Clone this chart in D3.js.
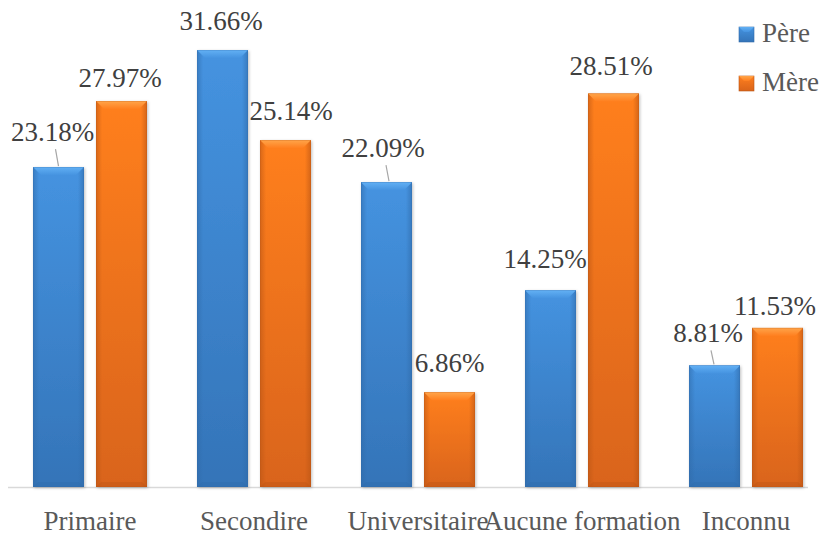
<!DOCTYPE html>
<html>
<head>
<meta charset="utf-8">
<script src="https://cdn.jsdelivr.net/npm/d3@7"></script>
<style>
html,body{margin:0;padding:0;background:#fff;}
svg{display:block;}
svg text{font-family:"Liberation Serif","Times New Roman","DejaVu Serif",serif;}
</style>
</head>
<body>
<svg id="chart" width="824" height="535"></svg>
<script>
const categories = ["Primaire", "Secondire", "Universitaire", "Aucune formation", "Inconnu"];
const seriesNames = ["Père", "Mère"];
const pereValues = [23.18, 31.66, 22.09, 14.25, 8.81];
const mereValues = [27.97, 25.14, 6.86, 28.51, 11.53];

// label placement offsets (layout only): [dx, dy from bar top to baseline, leader line?]
const pereLabelOffsets = [[-6, -26, true], [-1.5, -20, false], [-3.5, -25, true], [-5.5, -22, false], [-6.5, -23, true]];
const mereLabelOffsets = [[-1.5, -14, false], [5.5, -20, false], [0, -20, false], [-2.5, -18.5, false], [-2.5, -13, false]];

const svg = d3.select("#chart");
const baseY = 487;

const x = d3.scaleBand().domain(categories).range([8, 828]).padding(0);
const xs = d3.scaleBand().domain(seriesNames).range([-57, 57]).paddingInner(12/63).paddingOuter(0);
const y = d3.scaleLinear().domain([0, 35]).range([baseY, baseY - 35 * 13.8]);

const colors = {
  "Père": {light: "#62b0f4", main: "#4593e0", dark: "#3474b8", side: "#2f6aa8"},
  "Mère": {light: "#ffa54a", main: "#ff7f1f", dark: "#d9641a", side: "#b85414"}
};

const defs = svg.append("defs");
seriesNames.forEach((s, i) => {
  const c = colors[s];
  const g = defs.append("linearGradient").attr("id", "body" + i).attr("x1", 0).attr("y1", 0).attr("x2", 0).attr("y2", 1);
  g.append("stop").attr("offset", "0%").attr("stop-color", c.main);
  g.append("stop").attr("offset", "100%").attr("stop-color", c.dark);
  const gs = defs.append("linearGradient").attr("id", "side" + i).attr("x1", 0).attr("y1", 0).attr("x2", 1).attr("y2", 0);
  gs.append("stop").attr("offset", "0%").attr("stop-color", c.side).attr("stop-opacity", 0.55);
  gs.append("stop").attr("offset", "12%").attr("stop-color", c.side).attr("stop-opacity", 0);
  gs.append("stop").attr("offset", "88%").attr("stop-color", c.side).attr("stop-opacity", 0);
  gs.append("stop").attr("offset", "100%").attr("stop-color", c.side).attr("stop-opacity", 0.6);
  const gt = defs.append("linearGradient").attr("id", "top" + i).attr("x1", 0).attr("y1", 0).attr("x2", 0).attr("y2", 1);
  gt.append("stop").attr("offset", "0%").attr("stop-color", c.light);
  gt.append("stop").attr("offset", "100%").attr("stop-color", c.main);
});

const shadow = defs.append("filter").attr("id", "shadow").attr("x", "-20%").attr("y", "-5%").attr("width", "140%").attr("height", "110%");
shadow.append("feDropShadow").attr("dx", 1).attr("dy", 1).attr("stdDeviation", 1.5).attr("flood-color", "#000").attr("flood-opacity", 0.25);

// axis line
svg.append("line").attr("x1", 8).attr("x2", 808).attr("y1", baseY + 0.5).attr("y2", baseY + 0.5)
  .attr("stroke", "#d9d9d9").attr("stroke-width", 1.5);

const data = [];
categories.forEach((c, ci) => {
  data.push({cat: c, s: "Père", si: 0, v: pereValues[ci], off: pereLabelOffsets[ci]});
  data.push({cat: c, s: "Mère", si: 1, v: mereValues[ci], off: mereLabelOffsets[ci]});
});

const bars = svg.append("g").selectAll("g.bar").data(data).join("g").attr("class", "bar")
  .attr("transform", d => `translate(${x(d.cat) + x.bandwidth() / 2 + xs(d.s)},0)`);

const bw = xs.bandwidth();
bars.append("rect").attr("x", 0).attr("width", bw)
  .attr("y", d => y(d.v)).attr("height", d => baseY - y(d.v))
  .attr("fill", d => `url(#body${d.si})`).attr("filter", "url(#shadow)");
bars.append("rect").attr("x", 0).attr("width", bw)
  .attr("y", d => y(d.v)).attr("height", d => baseY - y(d.v))
  .attr("fill", d => `url(#side${d.si})`);
// top bevel
bars.append("path").attr("d", d => {
  const t = y(d.v), b = 8;
  return `M0,${t} L${bw},${t} L${bw - b},${t + b} L${b},${t + b} Z`;
}).attr("fill", d => `url(#top${d.si})`);
// bottom bevel
bars.append("path").attr("d", d => {
  const b = 5;
  return `M0,${baseY} L${bw},${baseY} L${bw - b},${baseY - b} L${b},${baseY - b} Z`;
}).attr("fill", d => colors[d.s].side).attr("opacity", 0.35);
// outline
bars.append("rect").attr("x", 0.25).attr("width", bw - 0.5)
  .attr("y", d => y(d.v) + 0.25).attr("height", d => baseY - y(d.v) - 0.5)
  .attr("fill", "none").attr("stroke", d => colors[d.s].side).attr("stroke-opacity", 0.5).attr("stroke-width", 0.5);

// leader lines
bars.filter(d => d.off[2]).append("line")
  .attr("x1", d => bw / 2 + d.off[0] + 3).attr("y1", d => y(d.v) + d.off[1] + 8)
  .attr("x2", d => bw / 2 + d.off[0] + 6).attr("y2", d => y(d.v) - 1)
  .attr("stroke", "#a6a6a6").attr("stroke-width", 1.2);

// value labels
bars.append("text")
  .attr("x", d => bw / 2 + d.off[0]).attr("y", d => y(d.v) + d.off[1])
  .attr("text-anchor", "middle")
  .attr("font-size", 27).attr("fill", "#404040")
  .text(d => d.v.toFixed(2) + "%");

// category labels
svg.append("g").selectAll("text").data(categories).join("text")
  .attr("x", d => x(d) + x.bandwidth() / 2).attr("y", 530)
  .attr("text-anchor", "middle")
  .attr("font-size", 27).attr("fill", "#595959")
  .text(d => d);

// legend
const legend = svg.append("g").selectAll("g").data(seriesNames).join("g")
  .attr("transform", (d, i) => `translate(739,${27 + i * 49})`);
legend.append("rect").attr("width", 15).attr("height", 15)
  .attr("fill", (d, i) => `url(#body${i})`).attr("stroke", d => colors[d].side).attr("stroke-width", 0.6);
legend.append("path").attr("d", "M0,0 L15,0 L10,5 L5,5 Z").attr("fill", (d, i) => `url(#top${i})`);
legend.append("text").attr("x", 23).attr("y", 15)
  .attr("font-size", 27).attr("fill", "#595959")
  .text(d => d);
</script>
</body>
</html>
